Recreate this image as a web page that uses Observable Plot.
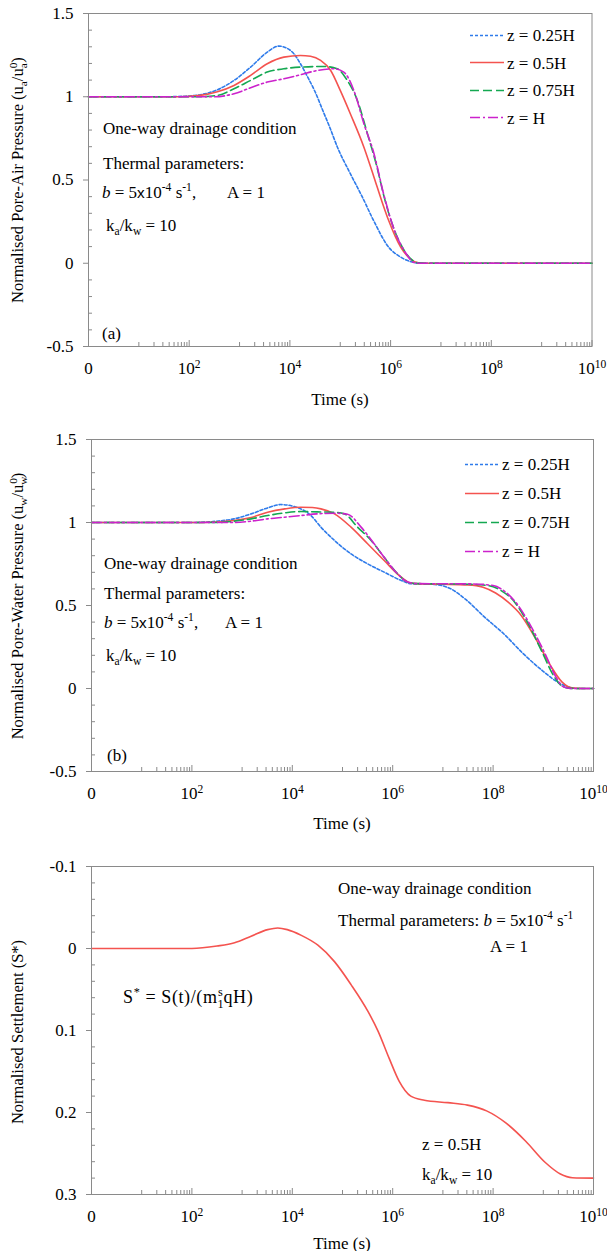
<!DOCTYPE html>
<html><head><meta charset="utf-8">
<script src="https://cdn.jsdelivr.net/npm/d3@7"></script>
<script src="https://cdn.jsdelivr.net/npm/@observablehq/plot@0.6"></script>
<style>
html,body{margin:0;padding:0;background:#fff;}
#root{position:relative;width:607px;height:1251px;overflow:hidden;font-family:"Liberation Serif","Times New Roman",serif;color:#000;}
.panel{position:absolute;left:0;}
.ann{position:absolute;font-size:17px;line-height:1;white-space:nowrap;transform:translateY(-50%);}
.ctr{transform:translate(-50%,-50%);}
.ann sub,.ann sup,.ytitle sub,.ytitle sup,.leg sub{font-size:0.68em;line-height:0;}
.ytitle{position:absolute;font-size:16.5px;line-height:1;white-space:nowrap;transform:translate(-50%,-50%) rotate(-90deg);}
.leg{position:absolute;font-size:17px;line-height:1;white-space:nowrap;transform:translateY(-50%);display:flex;align-items:center;}
.leg svg{margin-right:3px;}
.xs{font-family:"Liberation Sans",Arial,sans-serif;font-size:0.9em;}
.math{font-size:18px;letter-spacing:0.6px;}
</style></head>
<body><div id="root"></div>
<script>
// ---------- tick positions ----------
const majorX = [1, 1e2, 1e4, 1e6, 1e8, 1e10];
const majorYab = [-0.5, 0, 0.5, 1, 1.5];
const minorYab = [-0.4, -0.3, -0.2, -0.1, 0.1, 0.2, 0.3, 0.4, 0.6, 0.7, 0.8, 0.9, 1.1, 1.2, 1.3, 1.4];
const majorYc = [-0.1, 0, 0.1, 0.2, 0.3];
const minorYc = [-0.08, -0.06, -0.04, -0.02, 0.02, 0.04, 0.06, 0.08, 0.12, 0.14, 0.16, 0.18, 0.22, 0.24, 0.26, 0.28];
const minorMult = [10, 20, 30, 40, 50, 60, 70, 80, 90];
const decadePairs = [1, 1e2, 1e4, 1e6, 1e8];

// ---------- series ----------
const seriesLabels = ["z = 0.25H", "z = 0.5H", "z = 0.75H", "z = H"];
const seriesColors = ["#2f7bea", "#f4534f", "#14a851", "#cc22cc"];
const seriesDash = ["3,2", null, "9,4", "10,3,2,3"];

// (a) pore-air pressure, log10(time) and value
const airLogT025 = [0, 1.5, 1.9, 2.22, 2.56, 2.89, 3.22, 3.55, 3.78, 3.95, 4.08, 4.21, 4.35, 4.5, 4.65, 4.8, 4.94, 5.2, 5.44, 5.66, 5.96, 6.2, 6.43, 6.6, 10];
const air025     = [1, 1, 1.003, 1.012, 1.042, 1.098, 1.178, 1.268, 1.304, 1.29, 1.258, 1.198, 1.12, 1.03, 0.92, 0.81, 0.70, 0.538, 0.397, 0.258, 0.097, 0.037, 0.007, 0, 0];
const airLogT05  = [0, 1.8, 2.22, 2.56, 2.89, 3.22, 3.55, 3.88, 4.21, 4.41, 4.61, 4.81, 5.0, 5.2, 5.47, 5.67, 5.82, 5.96, 6.2, 6.39, 6.55, 6.7, 10];
const air05      = [1, 1, 1.008, 1.03, 1.068, 1.128, 1.198, 1.238, 1.248, 1.243, 1.218, 1.158, 1.038, 0.898, 0.697, 0.517, 0.378, 0.258, 0.097, 0.027, 0.003, 0, 0];
const airLogT075 = [0, 2.2, 2.56, 2.89, 3.22, 3.55, 3.88, 4.21, 4.67, 4.94, 5.14, 5.34, 5.54, 5.73, 5.87, 6.05, 6.27, 6.43, 6.55, 6.7, 10];
const air075     = [1, 1, 1.008, 1.048, 1.098, 1.148, 1.168, 1.178, 1.182, 1.168, 1.098, 0.978, 0.778, 0.577, 0.40, 0.22, 0.077, 0.018, 0.002, 0, 0];
const airLogTH   = [0, 2.5, 2.89, 3.22, 3.55, 3.88, 4.21, 4.5, 4.87, 5.07, 5.27, 5.47, 5.67, 5.86, 6.05, 6.31, 6.46, 6.6, 10];
const airH       = [1, 1, 1.018, 1.054, 1.088, 1.108, 1.132, 1.155, 1.168, 1.148, 1.038, 0.838, 0.658, 0.418, 0.22, 0.057, 0.005, 0, 0];

// (b) pore-water pressure
const watLogT025 = [0, 2.0, 2.5, 2.84, 3.18, 3.51, 3.77, 4.04, 4.37, 4.57, 4.84, 5.17, 5.5, 5.83, 6.17, 6.37, 6.83, 7.16, 7.44, 7.83, 8.21, 8.6, 8.98, 9.29, 9.52, 9.7, 10];
const wat025     = [1, 1, 1.008, 1.022, 1.052, 1.088, 1.108, 1.096, 1.042, 0.972, 0.892, 0.811, 0.751, 0.701, 0.651, 0.631, 0.627, 0.60, 0.54, 0.43, 0.33, 0.21, 0.108, 0.038, 0.008, 0, 0];
const watLogT05  = [0, 2.2, 2.84, 3.18, 3.51, 3.85, 4.17, 4.4, 4.57, 4.84, 5.17, 5.5, 5.83, 6.17, 6.37, 6.6, 7.0, 7.5, 7.8, 8.05, 8.3, 8.56, 8.83, 9.14, 9.37, 9.6, 9.8, 10];
const wat05      = [1, 1, 1.012, 1.03, 1.062, 1.082, 1.092, 1.09, 1.082, 1.052, 0.972, 0.872, 0.771, 0.671, 0.635, 0.63, 0.628, 0.624, 0.61, 0.575, 0.52, 0.44, 0.31, 0.14, 0.04, 0.002, 0, 0];
const watLogT075 = [0, 2.5, 2.84, 3.18, 3.51, 3.85, 4.17, 4.5, 4.84, 5.04, 5.3, 5.57, 5.83, 6.1, 6.3, 6.5, 7.5, 7.9, 8.16, 8.43, 8.7, 8.96, 9.2, 9.35, 9.5, 9.7, 10];
const wat075     = [1, 1, 1.008, 1.022, 1.042, 1.058, 1.066, 1.064, 1.062, 1.052, 0.972, 0.892, 0.79, 0.69, 0.641, 0.632, 0.628, 0.62, 0.59, 0.52, 0.39, 0.23, 0.08, 0.02, 0.002, 0, 0];
const watLogTH   = [0, 2.8, 3.18, 3.51, 3.85, 4.17, 4.5, 4.84, 5.1, 5.37, 5.63, 5.83, 6.1, 6.3, 6.5, 7.6, 8.0, 8.23, 8.5, 8.78, 9.05, 9.25, 9.4, 9.55, 10];
const watH       = [1, 1, 1.008, 1.022, 1.032, 1.042, 1.052, 1.056, 1.05, 0.972, 0.872, 0.79, 0.69, 0.641, 0.632, 0.63, 0.62, 0.585, 0.5, 0.36, 0.2, 0.07, 0.01, 0, 0];

// (c) settlement, z = 0.5H
const setLogT = [0, 1, 2, 2.5, 2.85, 3.18, 3.51, 3.71, 3.9, 4.18, 4.51, 4.84, 5.17, 5.51, 5.71, 5.93, 6.13, 6.36, 6.63, 7.1, 7.49, 7.87, 8.26, 8.65, 9.04, 9.34, 9.58, 10];
const setVal  = [0, 0, 0, -0.003, -0.007, -0.015, -0.023, -0.025, -0.023, -0.016, -0.004, 0.016, 0.044, 0.077, 0.101, 0.134, 0.162, 0.180, 0.185, 0.188, 0.191, 0.198, 0.213, 0.235, 0.261, 0.275, 0.2795, 0.280];

// ---------- helpers ----------
const rows = (lt, v) => lt.map((e, i) => ({t: Math.pow(10, e), v: v[i]}));
const gray = "#8a8a8a";
const minorX = decadePairs.flatMap(b => minorMult.map(m => b * m));
const root = document.getElementById("root");

function supX(svg) {
  d3.select(svg).selectAll("text").each(function () {
    const m = this.textContent.match(/^10\^(\d+)$/);
    if (m) {
      const t = d3.select(this);
      t.text("10");
      t.append("tspan").attr("dy", "-0.45em").attr("font-size", "0.68em").text(m[1]);
    }
  });
}

function makePanel({top, height, mt, mb, ml, mr, yDomain, reverse, majorY, minorY, series}) {
  const plotW = 607 - ml - mr, plotH = height - mt - mb;
  const marks = [
    Plot.ruleY(minorY, {y: d => d, insetRight: plotW - 4, stroke: gray}),
    Plot.ruleX(minorX, {x: d => d, insetTop: plotH - 4, stroke: gray}),
    Plot.ruleX(majorX, {x: d => d, insetTop: plotH - 6, stroke: gray}),
    Plot.axisY({ticks: majorY, tickFormat: d => String(d), tickSize: 5, tickPadding: 10, stroke: gray, fill: "black", label: null}),
    Plot.axisX({ticks: majorX, tickFormat: d => d === 1 ? "0" : "10^" + Math.round(Math.log10(d)), tickSize: 0, tickPadding: 15, fill: "black", label: null}),
    ...series.map(s => Plot.line(s.data, {x: "t", y: "v", stroke: s.color, strokeWidth: 1.6, strokeDasharray: s.dash, curve: "monotone-x"})),
    Plot.frame({stroke: gray})
  ];
  const svg = Plot.plot({
    width: 607, height, marginTop: mt, marginBottom: mb, marginLeft: ml, marginRight: mr,
    x: {type: "log", domain: [1, 1e10], axis: null},
    y: {domain: yDomain, reverse, axis: null},
    style: {fontFamily: '"Liberation Serif","Times New Roman",serif', fontSize: "17px", background: "transparent", color: "black", overflow: "visible"},
    marks
  });
  supX(svg);
  const div = document.createElement("div");
  div.className = "panel";
  div.style.top = top + "px";
  div.appendChild(svg);
  root.appendChild(div);
}

function ann(x, y, html, cls = "ann") {
  const d = document.createElement("div");
  d.className = cls;
  d.style.left = x + "px";
  d.style.top = y + "px";
  d.innerHTML = html;
  root.appendChild(d);
}

function legend(x, ys) {
  seriesLabels.forEach((lab, i) => {
    const d = document.createElement("div");
    d.className = "leg";
    d.style.left = x + "px";
    d.style.top = ys[i] + "px";
    d.innerHTML = `<svg width="34" height="6"><line x1="0" y1="3" x2="34" y2="3" stroke="${seriesColors[i]}" stroke-width="1.6" ${seriesDash[i] ? `stroke-dasharray="${seriesDash[i]}"` : ""}/></svg><span>${lab}</span>`;
    root.appendChild(d);
  });
}

const mk = (pairs) => pairs.map((p, i) => ({data: rows(p[0], p[1]), color: seriesColors[i], dash: seriesDash[i]}));

// ---------- panel (a) ----------
makePanel({top: 0, height: 417, mt: 13, mb: 71, ml: 88, mr: 15.5, yDomain: [-0.5, 1.5], reverse: false,
  majorY: majorYab, minorY: minorYab,
  series: mk([[airLogT025, air025], [airLogT05, air05], [airLogT075, air075], [airLogTH, airH]])});
// ---------- panel (b) ----------
makePanel({top: 417, height: 423, mt: 22, mb: 69, ml: 91, mr: 14, yDomain: [-0.5, 1.5], reverse: false,
  majorY: majorYab, minorY: minorYab,
  series: mk([[watLogT025, wat025], [watLogT05, wat05], [watLogT075, wat075], [watLogTH, watH]])});
// ---------- panel (c) ----------
makePanel({top: 840, height: 411, mt: 26, mb: 57, ml: 91, mr: 14, yDomain: [-0.1, 0.3], reverse: true,
  majorY: majorYc, minorY: minorYc,
  series: [{data: rows(setLogT, setVal), color: seriesColors[1], dash: null}]});

// ---------- text ----------
const bLine = '<i>b</i> = 5<span class="xs">x</span>10<sup>-4</sup> s<sup>-1</sup>';
const kLine = 'k<sub>a</sub>/k<sub>w</sub> = 10';

ann(18, 180, 'Normalised Pore-Air Pressure (u<sub>a</sub>/u<sub>a</sub><sup style="margin-left:-0.44em">0</sup>)', "ytitle");
ann(340, 399, 'Time (s)', "ann ctr");
ann(103, 128, 'One-way drainage condition');
ann(103, 163, 'Thermal parameters:');
ann(102, 192, bLine + ',');
ann(227, 192, 'A = 1');
ann(106, 225, kLine);
ann(102, 333, '(a)');
legend(470, [35, 62.5, 90, 117.5]);

ann(18, 606, 'Normalised Pore-Water Pressure (u<sub>w</sub>/u<sub>w</sub><sup style="margin-left:-0.64em">0</sup>)', "ytitle");
ann(342, 823, 'Time (s)', "ann ctr");
ann(104, 563, 'One-way drainage condition');
ann(104, 593, 'Thermal parameters:');
ann(104, 622, bLine + ',');
ann(225, 622, 'A = 1');
ann(106, 655, kLine);
ann(107, 755, '(b)');
legend(465, [464, 493, 522, 551]);

ann(18, 1032, 'Normalised Settlement (S*)', "ytitle");
ann(342, 1243, 'Time (s)', "ann ctr");
ann(338, 888, 'One-way drainage condition');
ann(338, 920, 'Thermal parameters: ' + bLine);
ann(490, 946, 'A = 1');
ann(123, 997, 'S<sup>*</sup> = S(t)/(m<sub>1</sub><sup style="margin-left:-0.5em">s</sup>qH)', "ann math");
ann(422, 1144, 'z = 0.5H');
ann(422, 1174, kLine);
</script>
</body></html>
